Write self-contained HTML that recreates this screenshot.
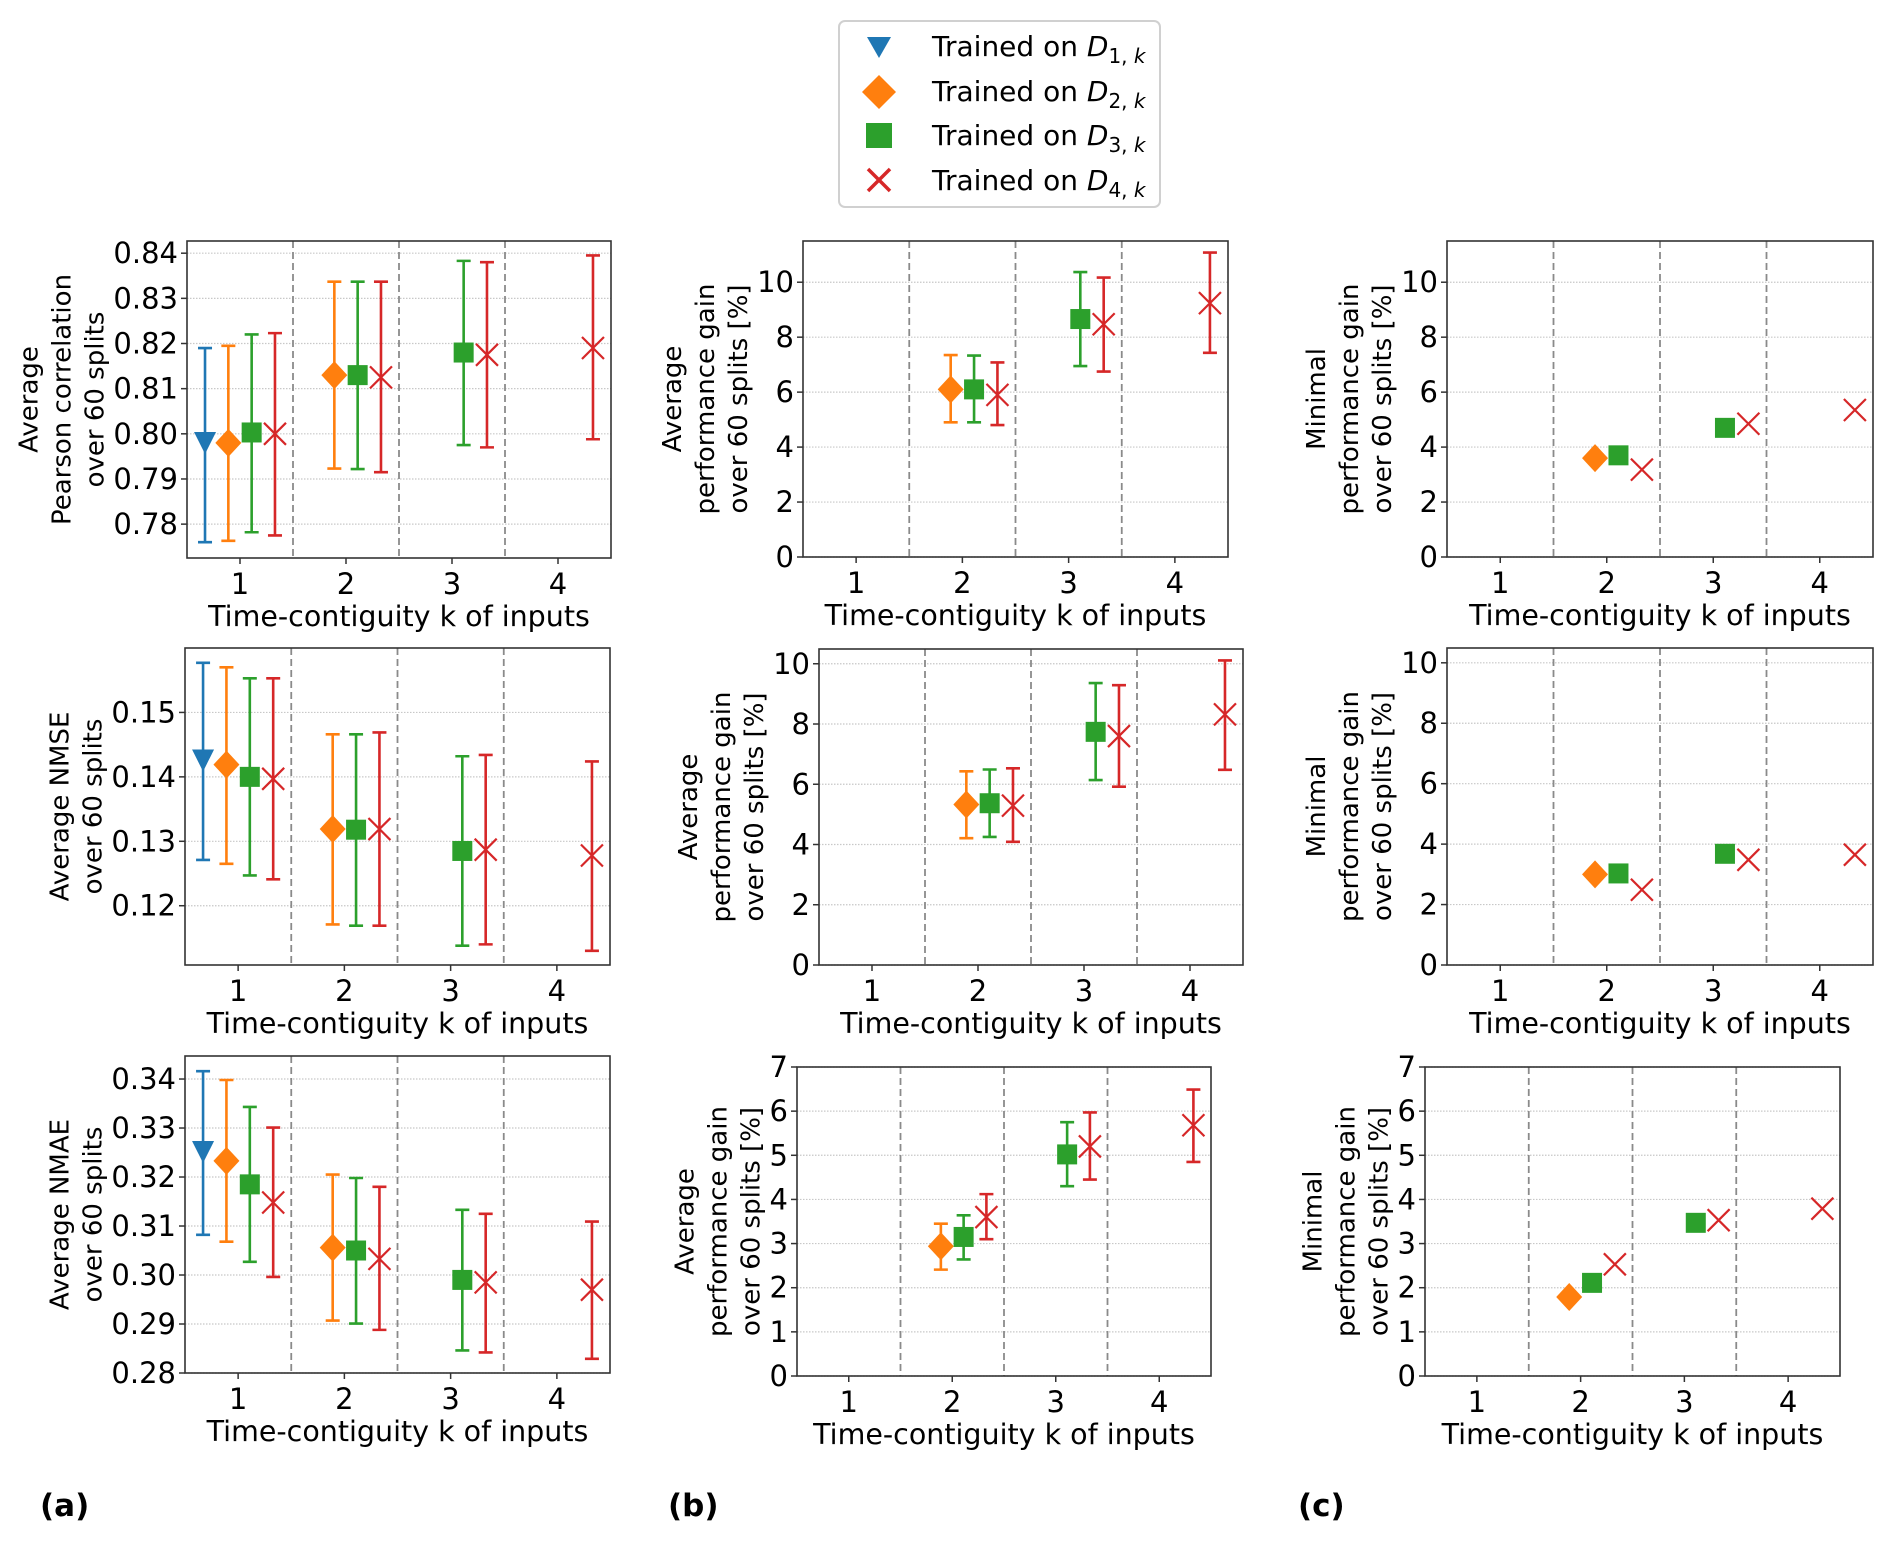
<!DOCTYPE html>
<html><head><meta charset="utf-8"><title>Performance vs time-contiguity</title>
<style>
html,body{margin:0;padding:0;background:#fff;}
svg{display:block;font-family:"DejaVu Sans","Liberation Sans",sans-serif;}
</style></head>
<body>
<svg id="fig" width="1892" height="1542" viewBox="0 0 1892 1542" xmlns="http://www.w3.org/2000/svg">
<g id="legend">
  <rect x="839" y="21" width="321" height="186" rx="6" fill="#fff" stroke="#d0d0d0" stroke-width="2"/>
  <g>
    <polygon points="867,37 891,37 879,58" fill="#1f77b4"/>
    <text x="932" y="56" font-size="28">Trained on <tspan font-style="italic">D</tspan><tspan font-size="20" dy="7">1, <tspan font-style="italic">k</tspan></tspan></text>
  </g>
  <g>
    <polygon points="879,75 896,92 879,109 862,92" fill="#ff7f0e"/>
    <text x="932" y="101" font-size="28">Trained on <tspan font-style="italic">D</tspan><tspan font-size="20" dy="7">2, <tspan font-style="italic">k</tspan></tspan></text>
  </g>
  <g>
    <rect x="866" y="123" width="26" height="25" fill="#2ca02c"/>
    <text x="932" y="145" font-size="28">Trained on <tspan font-style="italic">D</tspan><tspan font-size="20" dy="7">3, <tspan font-style="italic">k</tspan></tspan></text>
  </g>
  <g>
    <path d="M868,169 L890,191 M890,169 L868,191" stroke="#d62728" stroke-width="3.5"/>
    <text x="932" y="190" font-size="28">Trained on <tspan font-style="italic">D</tspan><tspan font-size="20" dy="7">4, <tspan font-style="italic">k</tspan></tspan></text>
  </g>
</g>
<text x="40" y="1516" font-size="31" font-weight="bold">(a)</text>
<text x="668" y="1516" font-size="31" font-weight="bold">(b)</text>
<text x="1298" y="1516" font-size="31" font-weight="bold">(c)</text>
</svg>
<script>
// ---- data ----
const categories = [1, 2, 3, 4];
const seriesNames = ["D1", "D2", "D3", "D4"];
const colors = ["#1f77b4", "#ff7f0e", "#2ca02c", "#d62728"];
const seriesOffset = [-0.33, -0.11, 0.11, 0.33];

// Pearson correlation (row 1, col a)
const pearsonMean = [[0.7982,null,null,null],[0.7980,0.8130,null,null],[0.8003,0.8130,0.8180,null],[0.8000,0.8125,0.8175,0.8190]];
const pearsonLo   = [[0.7760,null,null,null],[0.7763,0.7923,null,null],[0.7782,0.7922,0.7975,null],[0.7775,0.7915,0.7970,0.7988]];
const pearsonHi   = [[0.8190,null,null,null],[0.8195,0.8337,null,null],[0.8220,0.8337,0.8383,null],[0.8223,0.8337,0.8380,0.8395]];
const pearsonTicks = [0.78, 0.79, 0.80, 0.81, 0.82, 0.83, 0.84];

// Avg gain pearson (row 1, col b)
const gainPearsonMean = [[null,null,null,null],[null,6.10,null,null],[null,6.10,8.66,null],[null,5.90,8.47,9.24]];
const gainPearsonLo   = [[null,null,null,null],[null,4.90,null,null],[null,4.90,6.95,null],[null,4.80,6.75,7.43]];
const gainPearsonHi   = [[null,null,null,null],[null,7.35,null,null],[null,7.33,10.37,null],[null,7.08,10.17,11.08]];
// Min gain pearson (row 1, col c)
const minPearson = [[null,null,null,null],[null,3.60,null,null],[null,3.70,4.70,null],[null,3.18,4.85,5.35]];
const gainTicks10 = [0, 2, 4, 6, 8, 10];

// NMSE (row 2, col a)
const nmseMean = [[0.1427,null,null,null],[0.1419,0.1319,null,null],[0.1400,0.1318,0.1285,null],[0.1397,0.1319,0.1287,0.1278]];
const nmseLo   = [[0.1271,null,null,null],[0.1265,0.1171,null,null],[0.1247,0.1169,0.1138,null],[0.1241,0.1169,0.1140,0.1130]];
const nmseHi   = [[0.1577,null,null,null],[0.1570,0.1466,null,null],[0.1553,0.1466,0.1432,null],[0.1553,0.1469,0.1434,0.1424]];
const nmseTicks = [0.12, 0.13, 0.14, 0.15];

// Avg gain NMSE (row 2, col b)
const gainNmseMean = [[null,null,null,null],[null,5.33,null,null],[null,5.37,7.74,null],[null,5.29,7.60,8.32]];
const gainNmseLo   = [[null,null,null,null],[null,4.21,null,null],[null,4.25,6.14,null],[null,4.09,5.92,6.48]];
const gainNmseHi   = [[null,null,null,null],[null,6.43,null,null],[null,6.49,9.36,null],[null,6.53,9.29,10.11]];
// Min gain NMSE (row 2, col c)
const minNmse = [[null,null,null,null],[null,3.00,null,null],[null,3.03,3.68,null],[null,2.49,3.48,3.65]];

// NMAE (row 3, col a)
const nmaeMean = [[0.3253,null,null,null],[0.3233,0.3056,null,null],[0.3185,0.3050,0.2990,null],[0.3148,0.3033,0.2985,0.2970]];
const nmaeLo   = [[0.3082,null,null,null],[0.3068,0.2907,null,null],[0.3027,0.2901,0.2846,null],[0.2996,0.2888,0.2842,0.2829]];
const nmaeHi   = [[0.3416,null,null,null],[0.3398,0.3205,null,null],[0.3343,0.3198,0.3133,null],[0.3301,0.3180,0.3125,0.3109]];
const nmaeTicks = [0.28, 0.29, 0.30, 0.31, 0.32, 0.33, 0.34];

// Avg gain NMAE (row 3, col b)
const gainNmaeMean = [[null,null,null,null],[null,2.94,null,null],[null,3.15,5.02,null],[null,3.60,5.20,5.68]];
const gainNmaeLo   = [[null,null,null,null],[null,2.41,null,null],[null,2.64,4.30,null],[null,3.10,4.45,4.85]];
const gainNmaeHi   = [[null,null,null,null],[null,3.45,null,null],[null,3.64,5.75,null],[null,4.12,5.97,6.49]];
// Min gain NMAE (row 3, col c)
const minNmae = [[null,null,null,null],[null,1.79,null,null],[null,2.11,3.47,null],[null,2.53,3.53,3.79]];
const gainTicks7 = [0, 1, 2, 3, 4, 5, 6, 7];

// ---- drawing ----
const NS = "http://www.w3.org/2000/svg";
const svg = document.getElementById("fig");
function mk(tag, attrs, parent) {
  const e = document.createElementNS(NS, tag);
  for (const k in attrs) e.setAttribute(k, attrs[k]);
  (parent || svg).appendChild(e);
  return e;
}

function drawMarker(g, s, cx, cy) {
  let m;
  if (s === 0) {
    m = mk("polygon", {points: `${cx-11},${cy-10} ${cx+11},${cy-10} ${cx},${cy+12}`, fill: colors[0]}, g);
  } else if (s === 1) {
    m = mk("polygon", {points: `${cx},${cy-14} ${cx+13},${cy} ${cx},${cy+14} ${cx-13},${cy}`, fill: colors[1]}, g);
  } else if (s === 2) {
    m = mk("rect", {x: cx-10, y: cy-10, width: 20, height: 20, fill: colors[2]}, g);
  } else {
    m = mk("path", {d: `M${cx-11},${cy-11} L${cx+11},${cy+11} M${cx+11},${cy-11} L${cx-11},${cy+11}`, stroke: colors[3], "stroke-width": 2.2, fill: "none"}, g);
  }
  
  
}

function panel(cfg) {
  const g = mk("g", {});
  
  
  const {x0, x1, y0, y1, ymin, ymax} = cfg;
  const xs = v => x0 + (v - 0.5) / 4 * (x1 - x0);
  const ys = v => y1 - (v - ymin) / (ymax - ymin) * (y1 - y0);

  cfg.ticks.forEach(t => {
    const gl = mk("line", {x1: x0, x2: x1, y1: ys(t), y2: ys(t), stroke: "#c8c8c8", "stroke-width": 1.2, "stroke-dasharray": "1.5,1.5"}, g);
    
    
  });
  [1.5, 2.5, 3.5].forEach(v => {
    const sl = mk("line", {x1: xs(v), x2: xs(v), y1: y0, y2: y1, stroke: "#8a8a8a", "stroke-width": 1.8, "stroke-dasharray": "7,4"}, g);
    
    
  });
  for (let s = 0; s < 4; s++) {
    for (let c = 0; c < categories.length; c++) {
      const v = cfg.mean[s][c];
      if (v === null || v === undefined) continue;
      const cx = xs(categories[c] + seriesOffset[s]);
      if (cfg.lo) {
        const ylo = ys(cfg.lo[s][c]), yhi = ys(cfg.hi[s][c]);
        const eb = mk("path", {d: `M${cx},${ylo} L${cx},${yhi} M${cx-7},${ylo} L${cx+7},${ylo} M${cx-7},${yhi} L${cx+7},${yhi}`, stroke: colors[s], "stroke-width": 2.6, fill: "none"}, g);
        
        
      }
      drawMarker(g, s, cx, ys(v));
    }
  }
  const sp = mk("rect", {x: x0, y: y0, width: x1 - x0, height: y1 - y0, fill: "none", stroke: "#333", "stroke-width": 1.6}, g);
  
  
  categories.forEach(c => {
    mk("line", {x1: xs(c), x2: xs(c), y1: y1, y2: y1 + 6, stroke: "#333", "stroke-width": 1.5}, g);
    const t = mk("text", {x: xs(c), y: y1 + 36, "font-size": 29, "text-anchor": "middle"}, g);
    t.textContent = String(c);
    
    
  });
  const xl = mk("text", {x: (x0 + x1) / 2, y: y1 + 68, "font-size": 28.5, "text-anchor": "middle"}, g);
  xl.textContent = "Time-contiguity k of inputs";
  
  
  let minLeft = x0;
  cfg.ticks.forEach(t => {
    mk("line", {x1: x0 - 6, x2: x0, y1: ys(t), y2: ys(t), stroke: "#333", "stroke-width": 1.5}, g);
    const tl = mk("text", {x: x0 - 9, y: ys(t) + 10, "font-size": 29, "text-anchor": "end"}, g);
    tl.textContent = cfg.fmt(t);
    
    
    const w = tl.getComputedTextLength ? tl.getComputedTextLength() : 60;
    minLeft = Math.min(minLeft, x0 - 9 - w);
  });
  const lastX = minLeft - 18;
  const n = cfg.ylabel.length;
  const ym = (y0 + y1) / 2;
  cfg.ylabel.forEach((line, i) => {
    const lx = lastX - 33 * (n - 1 - i);
    const yl = mk("text", {x: lx, y: ym, "font-size": 26, "text-anchor": "middle", "dominant-baseline": "central", transform: `rotate(-90 ${lx} ${ym})`}, g);
    yl.textContent = line;
    
    
  });
}

const f2 = v => v.toFixed(2);
const f0 = v => String(v);
const avgGainLbl = ["Average", "performance gain", "over 60 splits [%]"];
const minGainLbl = ["Minimal", "performance gain", "over 60 splits [%]"];

panel({name: "pearson-panel", x0: 187, x1: 611, y0: 241, y1: 558, ymin: 0.7725, ymax: 0.8427, ticks: pearsonTicks, fmt: f2,
  ylabel: ["Average", "Pearson correlation", "over 60 splits"], mean: pearsonMean, lo: pearsonLo, hi: pearsonHi});
panel({name: "avg-gain-pearson-panel", x0: 803, x1: 1228, y0: 241, y1: 557, ymin: 0, ymax: 11.5, ticks: gainTicks10, fmt: f0,
  ylabel: avgGainLbl, mean: gainPearsonMean, lo: gainPearsonLo, hi: gainPearsonHi});
panel({name: "min-gain-pearson-panel", x0: 1447, x1: 1873, y0: 241, y1: 557, ymin: 0, ymax: 11.5, ticks: gainTicks10, fmt: f0,
  ylabel: minGainLbl, mean: minPearson});

panel({name: "nmse-panel", x0: 185, x1: 610, y0: 648, y1: 965, ymin: 0.1108, ymax: 0.16, ticks: nmseTicks, fmt: f2,
  ylabel: ["Average NMSE", "over 60 splits"], mean: nmseMean, lo: nmseLo, hi: nmseHi});
panel({name: "avg-gain-nmse-panel", x0: 819, x1: 1243, y0: 649, y1: 965, ymin: 0, ymax: 10.49, ticks: gainTicks10, fmt: f0,
  ylabel: avgGainLbl, mean: gainNmseMean, lo: gainNmseLo, hi: gainNmseHi});
panel({name: "min-gain-nmse-panel", x0: 1447, x1: 1873, y0: 648, y1: 965, ymin: 0, ymax: 10.49, ticks: gainTicks10, fmt: f0,
  ylabel: minGainLbl, mean: minNmse});

panel({name: "nmae-panel", x0: 185, x1: 610, y0: 1056, y1: 1373, ymin: 0.28, ymax: 0.3447, ticks: nmaeTicks, fmt: f2,
  ylabel: ["Average NMAE", "over 60 splits"], mean: nmaeMean, lo: nmaeLo, hi: nmaeHi});
panel({name: "avg-gain-nmae-panel", x0: 797, x1: 1211, y0: 1067, y1: 1376, ymin: 0, ymax: 7, ticks: gainTicks7, fmt: f0,
  ylabel: avgGainLbl, mean: gainNmaeMean, lo: gainNmaeLo, hi: gainNmaeHi});
panel({name: "min-gain-nmae-panel", x0: 1425, x1: 1840, y0: 1067, y1: 1376, ymin: 0, ymax: 7, ticks: gainTicks7, fmt: f0,
  ylabel: minGainLbl, mean: minNmae});
</script>
</body></html>
